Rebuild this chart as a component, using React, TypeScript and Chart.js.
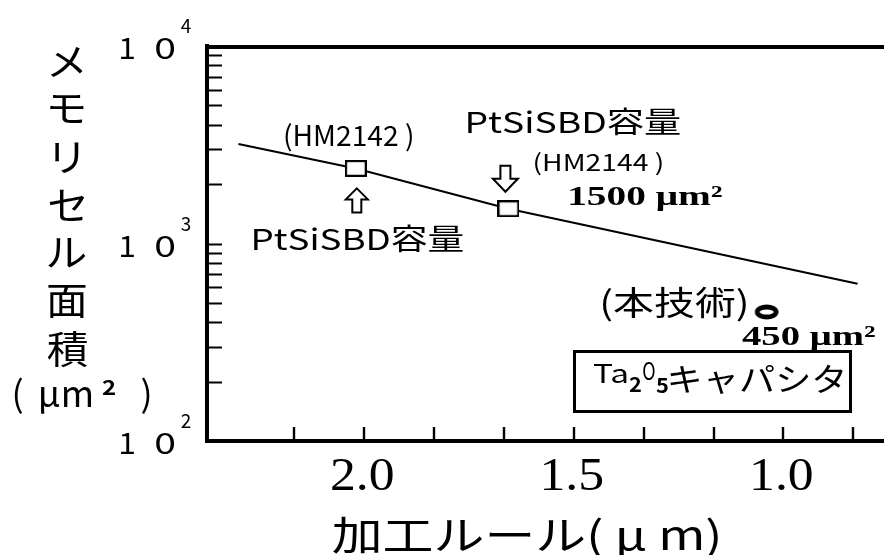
import React, { useEffect, useRef } from 'react';
import { Chart, registerables } from 'chart.js';

Chart.register(...registerables);

// 加工ルール (µm) against メモリセル面積 (µm², log scale)
const trendRule = [2.3, 2.02, 1.656, 0.823];
const trendArea = [3190, 2400, 1500, 625];

const ptsiRule = [2.02, 1.656];
const ptsiArea = [2400, 1500];

const ta2o5Rule = [1.04];
const ta2o5Area = [450];

const xTickValues = [2.1667, 2.0, 1.8333, 1.6667, 1.5, 1.3333, 1.1667, 1.0, 0.8333];
const xLabelValues = [2.0, 1.5, 1.0];
const xLabelTexts = ['2.0', '1.5', '1.0'];

const yTickValues = [
  100, 200, 300, 400, 500, 600, 700, 800, 900,
  1000, 2000, 3000, 4000, 5000, 6000, 7000, 8000, 9000, 10000,
];
const yDecadeValues = [100, 1000, 10000];
const yDecadeExponents = ['2', '3', '4'];

const yTitleChars = ['メ', 'モ', 'リ', 'セ', 'ル', '面', '積'];
const xTitle = '加工ルール( μ m)';

const SANS = '"Noto Sans CJK JP", "Noto Sans", sans-serif';
const SERIF = '"Liberation Serif", "Noto Sans CJK JP", serif';

type Ctx = CanvasRenderingContext2D;

// Text whose ink spans exactly x0..x1, sitting on the given baseline.
function inkText(ctx: Ctx, text: string, font: string, x0: number, x1: number, baseline: number) {
  ctx.save();
  ctx.font = font;
  ctx.textAlign = 'left';
  ctx.textBaseline = 'alphabetic';
  const m = ctx.measureText(text);
  const inkW = m.actualBoundingBoxLeft + m.actualBoundingBoxRight;
  const sx = (x1 - x0) / inkW;
  ctx.translate(x0 + m.actualBoundingBoxLeft * sx, baseline);
  ctx.scale(sx, 1);
  ctx.fillText(text, 0, 0);
  ctx.restore();
}

// Text whose ink is centred on (cx, cy), optionally widened by sx.
function inkCenter(ctx: Ctx, text: string, font: string, cx: number, cy: number, sx = 1) {
  ctx.save();
  ctx.font = font;
  ctx.textAlign = 'left';
  ctx.textBaseline = 'alphabetic';
  const m = ctx.measureText(text);
  const w = (m.actualBoundingBoxLeft + m.actualBoundingBoxRight) * sx;
  const h = m.actualBoundingBoxAscent + m.actualBoundingBoxDescent;
  ctx.translate(cx - w / 2 + m.actualBoundingBoxLeft * sx, cy - h / 2 + m.actualBoundingBoxAscent);
  ctx.scale(sx, 1);
  ctx.fillText(text, 0, 0);
  ctx.restore();
}

function centerText(ctx: Ctx, text: string, font: string, cx: number, baseline: number, sx = 1) {
  ctx.save();
  ctx.font = font;
  ctx.textAlign = 'center';
  ctx.textBaseline = 'alphabetic';
  ctx.translate(cx, baseline);
  ctx.scale(sx, 1);
  ctx.fillText(text, 0, 0);
  ctx.restore();
}

// Outlined block arrow; s = 1 points up (body below the tip), s = -1 points down.
function hollowArrow(ctx: Ctx, cx: number, tipY: number, s: number, headW: number, headH: number, shaftW: number, shaftH: number) {
  const b = tipY + s * headH;
  const e = b + s * shaftH;
  ctx.save();
  ctx.beginPath();
  ctx.moveTo(cx, tipY);
  ctx.lineTo(cx + headW / 2, b);
  ctx.lineTo(cx + shaftW / 2, b);
  ctx.lineTo(cx + shaftW / 2, e);
  ctx.lineTo(cx - shaftW / 2, e);
  ctx.lineTo(cx - shaftW / 2, b);
  ctx.lineTo(cx - headW / 2, b);
  ctx.closePath();
  ctx.fillStyle = '#fff';
  ctx.fill();
  ctx.lineWidth = 2;
  ctx.lineJoin = 'miter';
  ctx.strokeStyle = '#000';
  ctx.stroke();
  ctx.restore();
}

function makeRectMarker(): HTMLCanvasElement {
  const c = document.createElement('canvas');
  c.width = 22;
  c.height = 17;
  const g = c.getContext('2d')!;
  g.fillStyle = '#fff';
  g.fillRect(1, 1, 20, 15);
  g.strokeStyle = '#000';
  g.lineWidth = 2.2;
  g.strokeRect(1.1, 1.1, 19.8, 14.8);
  return c;
}

function makeRingMarker(): HTMLCanvasElement {
  const c = document.createElement('canvas');
  c.width = 28;
  c.height = 20;
  const g = c.getContext('2d')!;
  g.strokeStyle = '#000';
  g.lineWidth = 4.8;
  g.beginPath();
  g.ellipse(14, 10, 9.4, 5, 0, 0, Math.PI * 2);
  g.stroke();
  return c;
}

const decorations = {
  id: 'decorations',
  afterDraw(chart: any) {
    const ctx: Ctx = chart.ctx;
    const { left, right, top, bottom } = chart.chartArea;
    const xs = chart.scales.x;
    const ys = chart.scales.y;
    ctx.save();
    ctx.fillStyle = '#000';
    ctx.strokeStyle = '#000';

    // frame top edge
    ctx.lineWidth = 4;
    ctx.beginPath();
    ctx.moveTo(left - 2, top + 1);
    ctx.lineTo(right, top + 1);
    ctx.stroke();

    // inward tick marks
    ctx.lineWidth = 2;
    for (const v of yTickValues) {
      if (v === 100 || v === 10000) continue;
      const py = Math.round(ys.getPixelForValue(v)) + 0.5;
      ctx.beginPath();
      ctx.moveTo(left + 2, py);
      ctx.lineTo(left + 15, py);
      ctx.stroke();
    }
    ctx.lineWidth = 2.4;
    for (const v of xTickValues) {
      const px = Math.round(xs.getPixelForValue(v));
      ctx.beginPath();
      ctx.moveTo(px, bottom - 2);
      ctx.lineTo(px, bottom - 14);
      ctx.stroke();
    }

    // x tick labels
    xLabelValues.forEach((v, i) => {
      const px = xs.getPixelForValue(v) - 2;
      centerText(ctx, xLabelTexts[i], `47px ${SERIF}`, px, 490, 1.1);
    });

    // y decade labels: 1 0 with raised exponent
    yDecadeValues.forEach((v, i) => {
      const py = ys.getPixelForValue(v);
      centerText(ctx, '1', `29px ${SANS}`, 127, py + 13, 1.1);
      centerText(ctx, '0', `29px ${SANS}`, 165, py + 13, 1.35);
      centerText(ctx, yDecadeExponents[i], `19px ${SANS}`, 186, py - 13);
    });

    // y axis title, written vertically
    yTitleChars.forEach((ch, i) => {
      inkCenter(ctx, ch, `38px ${SANS}`, 67, 62 + i * 47.8, 1.1);
    });
    centerText(ctx, '(', `36px ${SANS}`, 17.5, 407);
    centerText(ctx, 'μ', `36px ${SANS}`, 49, 407);
    centerText(ctx, 'm', `36px ${SANS}`, 77.5, 407);
    centerText(ctx, '2', `bold 20px ${SANS}`, 109, 395, 1.2);
    centerText(ctx, ')', `36px ${SANS}`, 146.5, 407);

    // x axis title
    inkText(ctx, xTitle, `40px ${SANS}`, 333, 718, 550);

    // PtSi SBD markers
    const s1x = xs.getPixelForValue(ptsiRule[0]);
    const s1y = ys.getPixelForValue(ptsiArea[0]);
    const s2x = xs.getPixelForValue(ptsiRule[1]);
    const s2y = ys.getPixelForValue(ptsiArea[1]);
    hollowArrow(ctx, s1x + 1, s1y + 20, 1, 22, 11, 9, 13);
    hollowArrow(ctx, s2x - 3, s2y - 17, -1, 25, 13, 10, 13);

    inkText(ctx, '(HM2142 )', `28px ${SANS}`, 285, 412, 146);
    inkText(ctx, 'PtSiSBD容量', `29px ${SANS}`, 253, 463, 250);
    inkText(ctx, 'PtSiSBD容量', `29px ${SANS}`, 467, 680, 133);
    inkText(ctx, '(HM2144 )', `23px ${SANS}`, 535, 662, 171);
    inkText(ctx, '1500 μm²', `bold 28px ${SERIF}`, 570, 722, 205);

    // Ta2O5 capacitor point
    inkText(ctx, '(本技術)', `33px ${SANS}`, 603, 747, 315);
    inkText(ctx, '450 μm²', `bold 28px ${SERIF}`, 742, 875, 345);

    ctx.lineWidth = 3;
    ctx.strokeRect(574.5, 351.5, 276, 60);
    inkText(ctx, 'Ta', `26px ${SANS}`, 593, 627, 383);
    inkText(ctx, '2', `bold 20px ${SANS}`, 629, 641, 392);
    inkText(ctx, 'O', `24px ${SANS}`, 643, 655, 380);
    inkText(ctx, '5', `bold 20px ${SANS}`, 656, 668, 393);
    inkText(ctx, 'キャパシタ', `32px ${SANS}`, 670, 843, 391);

    ctx.restore();
  },
};

export default function App() {
  const ref = useRef<HTMLCanvasElement | null>(null);

  useEffect(() => {
    const canvas = ref.current;
    if (!canvas) return;
    const rectMarker = makeRectMarker();
    const ringMarker = makeRingMarker();

    const chart = new Chart(canvas, {
      type: 'scatter',
      data: {
        datasets: [
          {
            label: 'trend',
            data: trendRule.map((x, i) => ({ x, y: trendArea[i] })),
            showLine: true,
            borderColor: '#000',
            borderWidth: 2,
            pointRadius: 0,
            tension: 0,
            order: 3,
          },
          {
            label: 'PtSiSBD容量',
            data: ptsiRule.map((x, i) => ({ x, y: ptsiArea[i] })),
            pointStyle: rectMarker,
            pointRadius: 10,
            showLine: false,
            order: 2,
          },
          {
            label: '本技術',
            data: ta2o5Rule.map((x, i) => ({ x, y: ta2o5Area[i] })),
            pointStyle: ringMarker,
            pointRadius: 10,
            showLine: false,
            order: 1,
          },
        ],
      },
      options: {
        animation: false,
        responsive: false,
        maintainAspectRatio: false,
        events: [],
        layout: { autoPadding: false, padding: { top: 46, right: 0, bottom: 0, left: 0 } },
        plugins: {
          legend: { display: false },
          tooltip: { enabled: false },
          title: { display: false },
        },
        scales: {
          x: {
            type: 'linear',
            reverse: true,
            min: 0.76,
            max: 2.375,
            grid: { display: false },
            border: { display: true, color: '#000', width: 4 },
            ticks: { display: false },
            afterBuildTicks: (s: any) => {
              s.ticks = xTickValues.map((value) => ({ value }));
            },
            afterFit: (s: any) => {
              s.height = 114;
            },
          },
          y: {
            type: 'logarithmic',
            min: 100,
            max: 10000,
            grid: { display: false },
            border: { display: true, color: '#000', width: 4 },
            ticks: { display: false },
            afterBuildTicks: (s: any) => {
              s.ticks = yTickValues.map((value) => ({ value }));
            },
            afterFit: (s: any) => {
              s.width = 207;
            },
          },
        },
      } as any,
      plugins: [decorations],
    });

    return () => chart.destroy();
  }, []);

  return (
    <div style={{ position: 'fixed', left: 0, top: 0, width: 884, height: 555, background: '#fff' }}>
      <canvas ref={ref} width={884} height={555} style={{ display: 'block' }} />
    </div>
  );
}
